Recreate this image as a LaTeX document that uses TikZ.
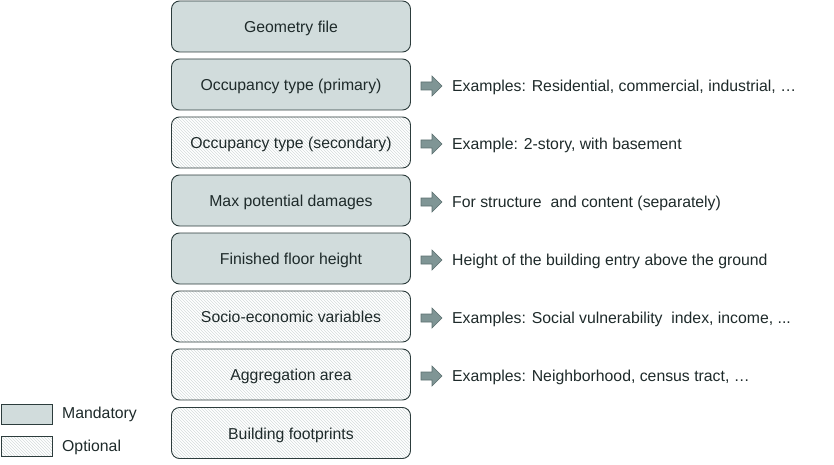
\documentclass[tikz,border=0pt]{standalone}
\usepackage{fontspec}
\setmainfont{Liberation Sans}
\usetikzlibrary{patterns}
\definecolor{mandfill}{HTML}{D1DCDC}
\definecolor{edgecol}{HTML}{2C3C3C}
\definecolor{hatchcol}{HTML}{D3DBDB}
\definecolor{arrfill}{HTML}{7F9595}
\definecolor{arredge}{HTML}{5C7070}
\definecolor{txtcol}{HTML}{1E2A2A}
\tikzset{
  box/.style={draw=edgecol, line width=0.9pt, rounded corners=8pt,
    minimum width=239pt, minimum height=51pt, inner sep=0pt,
    text height=14pt, text depth=2pt,
    text=txtcol, font=\fontsize{15.8}{18}\selectfont},
  mand/.style={box, fill=mandfill},
  opt/.style={box, pattern=north west lines, pattern color=hatchcol},
  legmand/.style={draw=edgecol, line width=0.9pt, fill=mandfill,
    minimum width=51pt, minimum height=20pt, inner sep=0pt},
  legopt/.style={draw=edgecol, line width=0.9pt, pattern=north west lines,
    pattern color=hatchcol, minimum width=51pt, minimum height=20pt, inner sep=0pt},
  note/.style={anchor=west, inner sep=0pt, text=txtcol, font=\fontsize{15.8}{18}\selectfont},
  blockarrow/.style={fill=arrfill, draw=arredge, line width=0.6pt, line join=miter}
}
\begin{document}
\begin{tikzpicture}[x=1pt, y=-1pt]
\useasboundingbox (0,0) rectangle (834,465);

% attribute boxes, stacked top to bottom
\node[mand] (b1) at (291,26.5)  {Geometry file};
\node[mand] (b2) at (291,84.5)  {Occupancy type (primary)};
\node[opt]  (b3) at (291,142.5) {Occupancy type (secondary)};
\node[mand] (b4) at (291,200.5) {Max potential damages};
\node[mand] (b5) at (291,258.5) {Finished floor height};
\node[opt]  (b6) at (291,316.5) {Socio-economic variables};
\node[opt]  (b7) at (291,374.5) {Aggregation area};
\node[opt]  (b8) at (291,433)   {Building footprints};

% block arrows pointing to the explanatory notes
\foreach \yy in {86,144,202,260,318,376}{
  \draw[blockarrow, shift={(421,\yy)}]
    (0,-4) -- (11,-4) -- (11,-10) -- (21,0) -- (11,10) -- (11,4) -- (0,4) -- cycle;
}

% explanatory notes
\node[note] (n2) at (452,87)  {Examples: Residential, commercial, industrial, \dots};
\node[note] (n3) at (452,145) {Example: 2-story, with basement};
\node[note] (n4) at (452,203) {For structure\ \ and content (separately)};
\node[note] (n5) at (452,261) {Height of the building entry above the ground};
\node[note] (n6) at (452,319) {Examples: Social vulnerability\ \ index, income, ...};
\node[note] (n7) at (452,377) {Examples: Neighborhood, census tract, \dots};

% legend
\node[legmand] (lm) at (26.5,414) {};
\node[legopt]  (lo) at (26.5,446) {};
\node[note] (lmt) at (62,414) {Mandatory};
\node[note] (lot) at (62,447) {Optional};
\end{tikzpicture}
\end{document}
